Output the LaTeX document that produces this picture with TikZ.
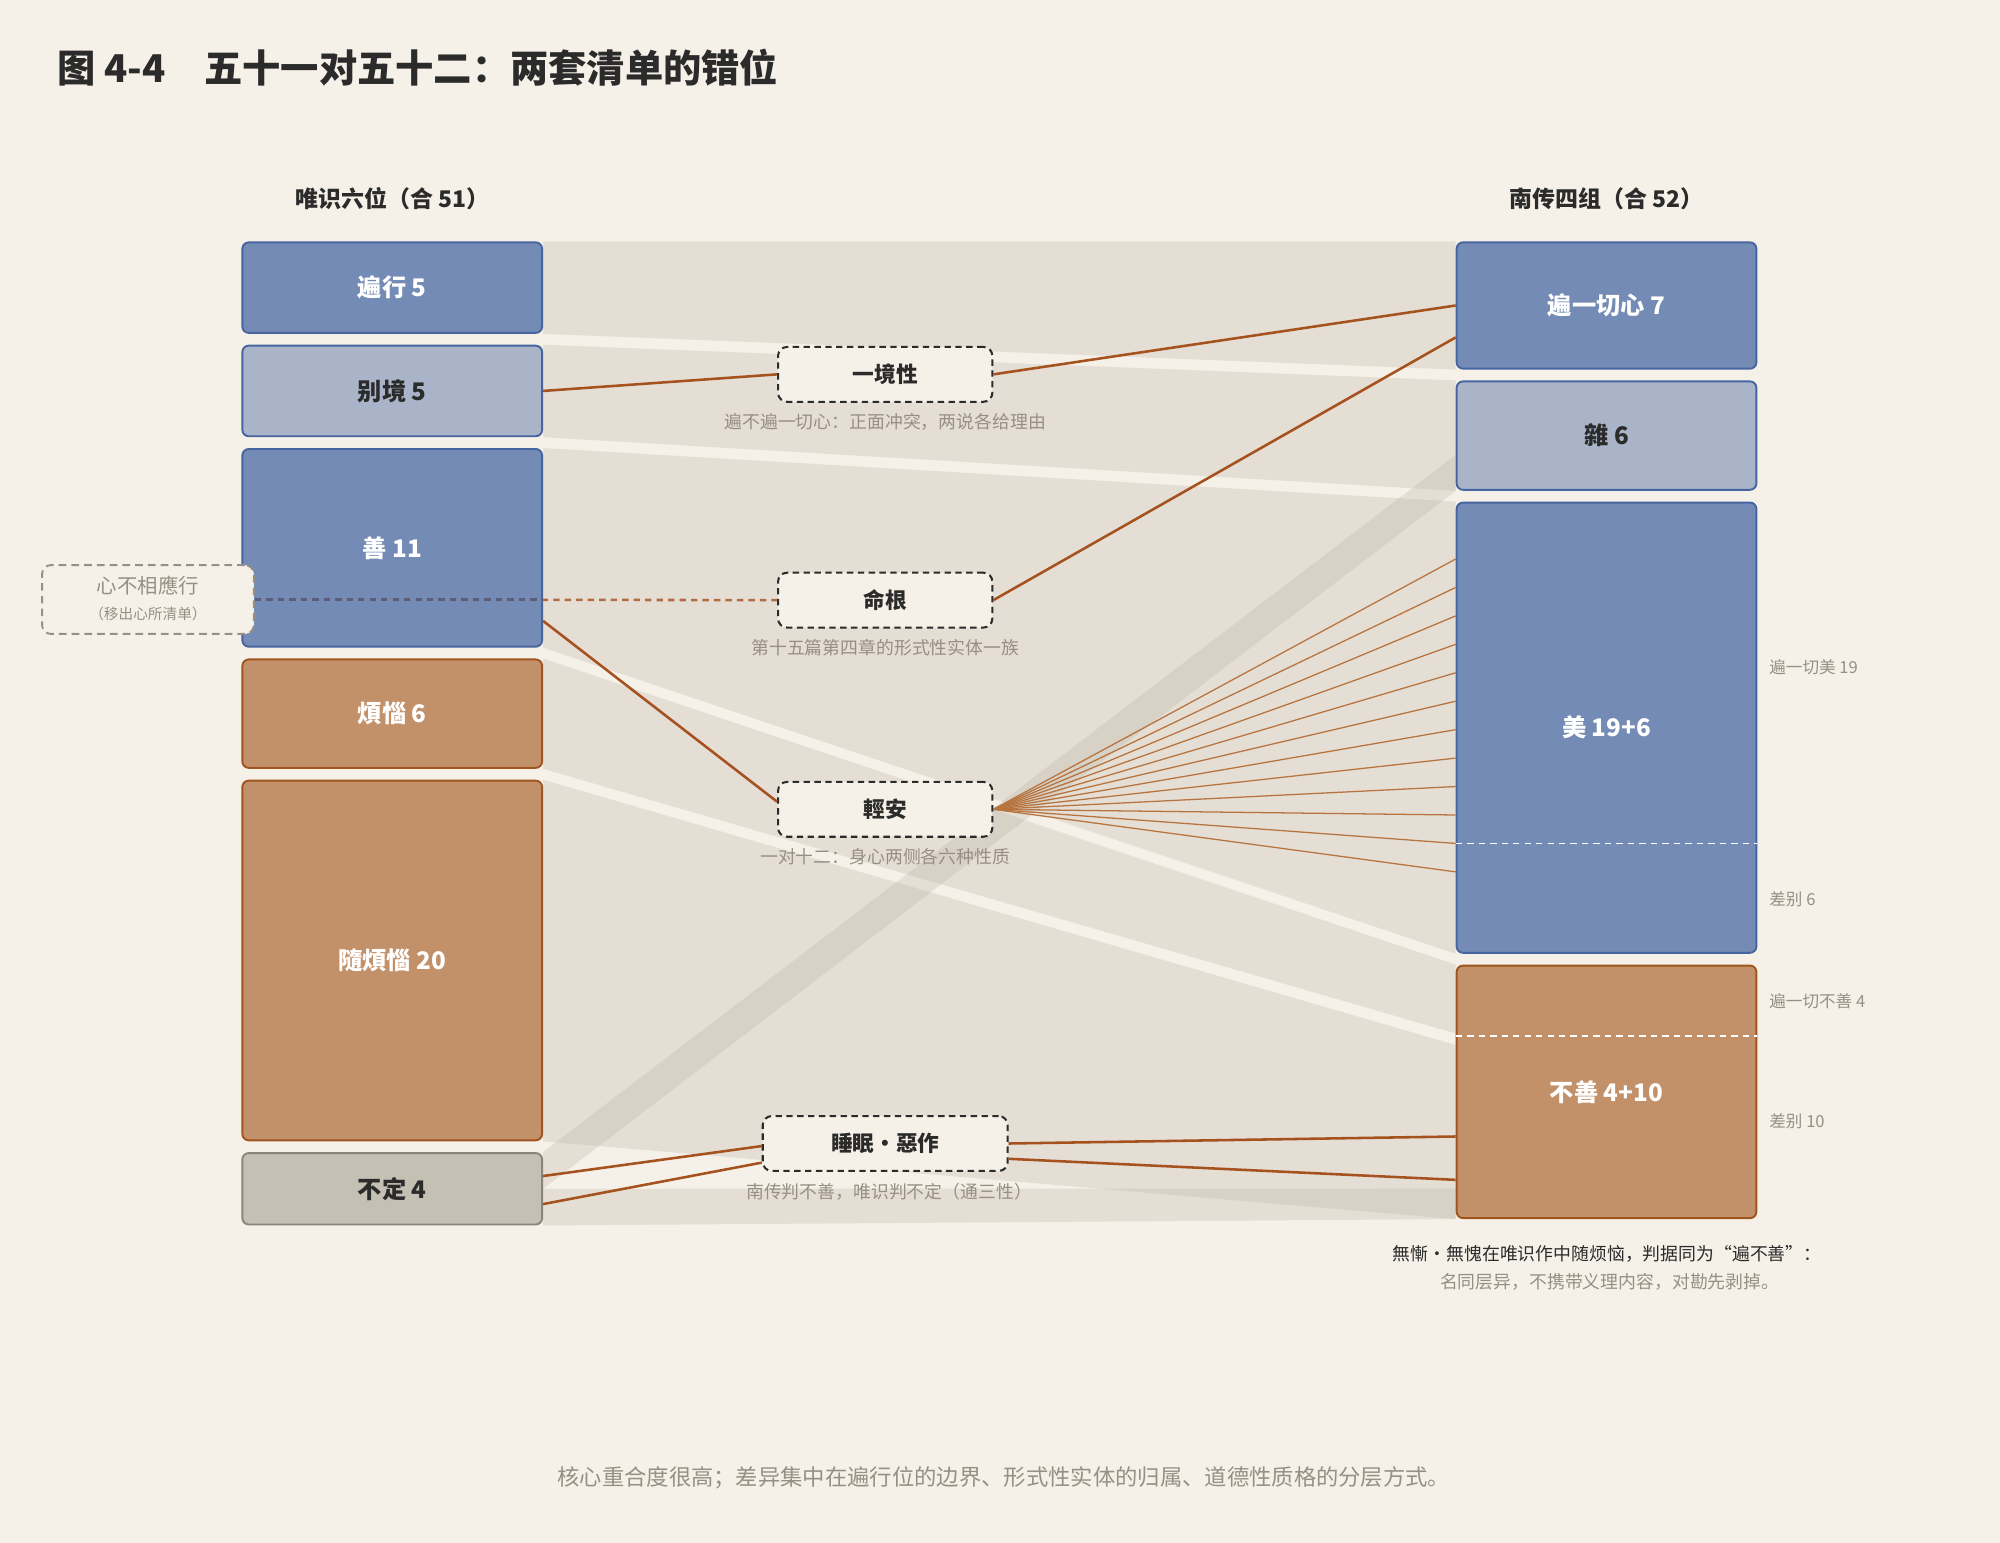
\documentclass[tikz,border=0pt]{standalone}
\usepackage{fontspec}
\setmainfont{Noto Sans CJK SC}
\usetikzlibrary{calc}
\pgfdeclarelayer{background}
\pgfsetlayers{background,main}
\definecolor{bg}{HTML}{F6F1E8}
\definecolor{bandgray}{HTML}{BCB3A6}
\definecolor{deepblue}{HTML}{748BB5}
\definecolor{deepblueline}{HTML}{4665A0}
\definecolor{paleblue}{HTML}{A9B4C8}
\definecolor{boxtan}{HTML}{C29069}
\definecolor{boxtanline}{HTML}{A0541E}
\definecolor{stone}{HTML}{C4C0B4}
\definecolor{stoneline}{HTML}{8A857C}
\definecolor{rust}{HTML}{A5521F}
\definecolor{fanrust}{HTML}{B8743F}
\definecolor{ink}{HTML}{2B2B2B}
\definecolor{notegray}{HTML}{978F84}
\definecolor{slate}{HTML}{5A5E7A}

\begin{document}
\begin{tikzpicture}[x=1pt,y=-1pt,
    grp/.style={draw,line width=1.5pt,rounded corners=5pt,minimum width=235pt,inner sep=0pt,
      font=\fontsize{19}{22}\selectfont\bfseries},
    deep/.style={grp,fill=deepblue,draw=deepblueline,text=white},
    pale/.style={grp,fill=paleblue,draw=deepblueline,text=ink},
    warm/.style={grp,fill=boxtan,draw=boxtanline,text=white},
    neutral/.style={grp,fill=stone,draw=stoneline,text=ink},
    midbox/.style={draw=ink,fill=bg,line width=1.6pt,dash pattern=on 5pt off 3.5pt,rounded corners=7pt,
      minimum width=168pt,minimum height=43pt,inner sep=0pt,text=ink,font=\fontsize{17}{20}\selectfont\bfseries},
    capnote/.style={inner sep=0pt,text=notegray,font=\fontsize{14}{16}\selectfont},
    side/.style={inner sep=0pt,anchor=west,text=notegray,font=\fontsize{13}{15}\selectfont},
    band/.style={fill=bandgray,fill opacity=0.3},
    link/.style={rust,line width=2pt},
    fan/.style={fanrust,line width=1pt},
    split/.style={white,line width=1.3pt,dash pattern=on 5pt off 4pt}]
  \useasboundingbox (0,0) rectangle (1568,1209.7);

  \node[inner sep=0pt,anchor=west,text=ink,font=\fontsize{30}{34}\selectfont\bfseries] (title) at (45,53)
    {图 4-4\hspace{1em}五十一对五十二：两套清单的错位};
  \node[inner sep=0pt,text=ink,font=\fontsize{18}{20}\selectfont\bfseries] (lhead) at (307.5,156) {唯识六位（合 51）};
  \node[inner sep=0pt,text=ink,font=\fontsize{18}{20}\selectfont\bfseries] (rhead) at (1259.5,156) {南传四组（合 52）};

  \node[deep,minimum height=71pt] (lxing) at (307.5,225.5) {遍行 5};
  \node[pale,minimum height=71pt] (ljing) at (307.5,306.5) {别境 5};
  \node[deep,minimum height=155pt] (lshan) at (307.5,429.5) {善 11};
  \node[warm,minimum height=85pt] (lfan) at (307.5,559.5) {煩惱 6};
  \node[warm,minimum height=282pt] (lsui) at (307.5,753) {隨煩惱 20};
  \node[neutral,minimum height=56pt] (lbu) at (307.5,932) {不定 4};

  \node[deep,minimum height=99pt] (rbian) at (1259.5,239.5) {遍一切心 7};
  \node[pale,minimum height=85pt] (rza) at (1259.5,341.5) {雜 6};
  \node[deep,minimum height=353pt] (rmei) at (1259.5,570.5) {美 19+6};
  \node[warm,minimum height=198pt] (rbs) at (1259.5,856) {不善 4+10};

  \begin{pgfonlayer}{background}
  \fill[bg] (0,0) rectangle (1568,1209.7);
  \fill[band] (lxing.north east) -- (rbian.north west) -- (rbian.south west) -- (lxing.south east) -- cycle;
  \fill[band] (ljing.north east) -- (rza.north west) -- (rza.south west) -- (ljing.south east) -- cycle;
  \fill[band] (lshan.north east) -- (rmei.north west) -- (rmei.south west) -- (lshan.south east) -- cycle;
  \fill[band] (lfan.north east) -- (rbs.north west) -- ($(rbs.north west)+(0,54)$) -- (lfan.south east) -- cycle;
  \fill[band] (lsui.north east) -- ($(rbs.north west)+(0,63)$) -- (rbs.south west) -- (lsui.south east) -- cycle;
  \fill[band] (lbu.north east) -- ($(rza.south west)+(0,-28)$) -- (rza.south west) -- (lbu.east) -- cycle;
  \fill[band] (lbu.east) -- ($(rbs.south west)+(0,-24)$) -- (rbs.south west) -- (lbu.south east) -- cycle;
  \end{pgfonlayer}

  \draw[split] ($(rmei.north west)+(0,268)$) -- ($(rmei.north east)+(0,268)$);
  \draw[split] ($(rbs.north west)+(0,56)$) -- ($(rbs.north east)+(0,56)$);

  \node[side] (meiall) at (1387,523) {遍一切美 19};
  \node[side] (meidiff) at (1387,705) {差别 6};
  \node[side] (bsall) at (1387,785) {遍一切不善 4};
  \node[side] (bsdiff) at (1387,879) {差别 10};

  \node[midbox] (yijing) at (694,293.5) {一境性};
  \node[midbox] (minggen) at (694,470.5) {命根};
  \node[midbox] (qingan) at (694,634.5) {輕安};
  \node[midbox,minimum width=192pt] (shuimian) at (694,896.5) {睡眠・惡作};
  \node[capnote] (yijingcap) at (694,331) {遍不遍一切心：正面冲突，两说各给理由};
  \node[capnote] (minggencap) at (694,508) {第十五篇第四章的形式性实体一族};
  \node[capnote] (qingancap) at (694,672) {一对十二：身心两侧各六种性质};
  \node[capnote] (shuimiancap) at (697,934) {南传判不善，唯识判不定（通三性）};

  \draw[link] (ljing.east) -- (yijing.west);
  \draw[link] (yijing.east) -- (rbian.west);
  \draw[link] (minggen.east) -- ($(rbian.west)+(0,25)$);
  \draw[link] ($(lshan.south east)+(0,-21)$) -- ($(qingan.west)+(0,-6)$);
  \foreach \i in {0,...,11}
    \draw[fan] (qingan.east) -- ($(rmei.north west)+(0,45+22.3*\i)$);
  \draw[link] ($(lbu.east)+(0,-10)$) -- ($(shuimian.west)+(0,2)$);
  \draw[link] ($(lbu.east)+(0,12)$) -- ($(shuimian.west)+(0,15)$);
  \draw[link] (shuimian.east) -- ($(rbs.west)+(0,35)$);
  \draw[link] ($(shuimian.east)+(0,12)$) -- ($(rbs.west)+(0,69)$);

  \node[draw=notegray,fill=bg,line width=1.5pt,dash pattern=on 6pt off 4pt,rounded corners=7pt,
    minimum width=166pt,minimum height=54pt] (xinbu) at (116,470) {};
  \node[inner sep=0pt,text=notegray,font=\fontsize{16}{18}\selectfont] (xinbutext) at (116,459) {心不相應行};
  \node[inner sep=0pt,text=notegray,font=\fontsize{11.5}{13}\selectfont] (xinbusub) at (116,481) {（移出心所清单）};
  \draw[rust!85!white,line width=2pt,dash pattern=on 5pt off 4pt] (xinbu.east) -- (minggen.west);
  \draw[slate,line width=2pt,dash pattern=on 5pt off 4pt] (xinbu.east) -- (xinbu.east -| lshan.east);

  \node[inner sep=0pt,text=ink,font=\fontsize{14}{16}\selectfont] (bsnote) at (1260,983)
    {無慚・無愧在唯识作中随烦恼，判据同为“遍不善”：};
  \node[inner sep=0pt,text=notegray,font=\fontsize{14}{16}\selectfont] (bsnote2) at (1262,1005)
    {名同层异，不携带义理内容，对勘先剥掉。};
  \node[inner sep=0pt,text=notegray,font=\fontsize{17.5}{20}\selectfont] (footer) at (787,1159)
    {核心重合度很高；差异集中在遍行位的边界、形式性实体的归属、道德性质格的分层方式。};
\end{tikzpicture}
\end{document}
